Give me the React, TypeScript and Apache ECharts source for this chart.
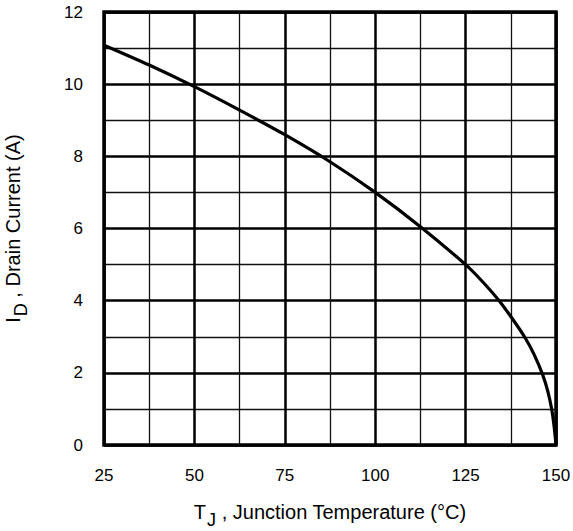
import React, { useEffect, useRef } from "react";
import * as echarts from "echarts";

const temperatures = [25, 37.5, 50, 62.5, 75, 87.5, 100, 112.5, 125, 129, 134.1, 137.5, 141.4, 143.9, 146.3, 147.7, 148.8, 149.5, 150];
const drainCurrent = [11.08, 10.53, 9.93, 9.28, 8.6, 7.85, 7.0, 6.05, 5.0, 4.6, 4.02, 3.56, 2.98, 2.52, 1.95, 1.5, 1.0, 0.5, 0];
const xTicks = [25, 50, 75, 100, 125, 150];
const yTicks = [0, 2, 4, 6, 8, 10, 12];

export default function App() {
  const ref = useRef<HTMLDivElement>(null);
  useEffect(() => {
    const chart = echarts.init(ref.current!, null, { renderer: "svg" });
    const font = "Arial, 'Liberation Sans', Helvetica, sans-serif";
    const nameRich = {
      a: { fontSize: 20, fontFamily: font, color: "#000", verticalAlign: "top", lineHeight: 22 },
      sub: { fontSize: 18, fontFamily: font, color: "#000", padding: [13, 0, 0, 1], lineHeight: 22 },
    };
    chart.setOption({
      animation: false,
      grid: {
        left: 104,
        right: 17,
        top: 12,
        bottom: 86,
        show: true,
        borderColor: "#000",
        borderWidth: 3.5,
        backgroundColor: "#fff",
        outerBoundsMode: "none",
        containLabel: false,
      },
      xAxis: {
        type: "value",
        min: xTicks[0],
        max: xTicks[xTicks.length - 1],
        interval: 25,
        axisLine: { show: false },
        axisTick: { show: false },
        axisLabel: { color: "#000", fontSize: 17, fontFamily: font, margin: 22 },
        splitLine: { show: true, lineStyle: { color: "#000", width: 2.5 } },
        minorTick: { show: false, splitNumber: 2 },
        minorSplitLine: { show: true, lineStyle: { color: "#111", width: 1.3 } },
        name: "{a|T}{sub|J}{a| , Junction Temperature (°C)}",
        nameLocation: "middle",
        nameGap: 57,
        nameTextStyle: { rich: nameRich },
      },
      yAxis: {
        type: "value",
        min: yTicks[0],
        max: yTicks[yTicks.length - 1],
        interval: 2,
        axisLine: { show: false },
        axisTick: { show: false },
        axisLabel: { color: "#000", fontSize: 17, fontFamily: font, margin: 21 },
        splitLine: { show: true, lineStyle: { color: "#000", width: 2.5 } },
        minorTick: { show: false, splitNumber: 2 },
        minorSplitLine: { show: true, lineStyle: { color: "#111", width: 1.3 } },
        name: "{a|I}{sub|D}{a| , Drain Current (A)}",
        nameLocation: "middle",
        nameRotate: 90,
        nameGap: 79,
        nameTextStyle: { rich: nameRich },
      },
      series: [
        {
          type: "line",
          data: temperatures.map((t, i) => [t, drainCurrent[i]]),
          smooth: 0.3,
          showSymbol: false,
          lineStyle: { color: "#000", width: 3.2 },
          z: 5,
        },
      ],
    });
    return () => chart.dispose();
  }, []);
  return <div ref={ref} style={{ position: "absolute", left: 0, top: 0, width: 573, height: 531 }} />;
}
